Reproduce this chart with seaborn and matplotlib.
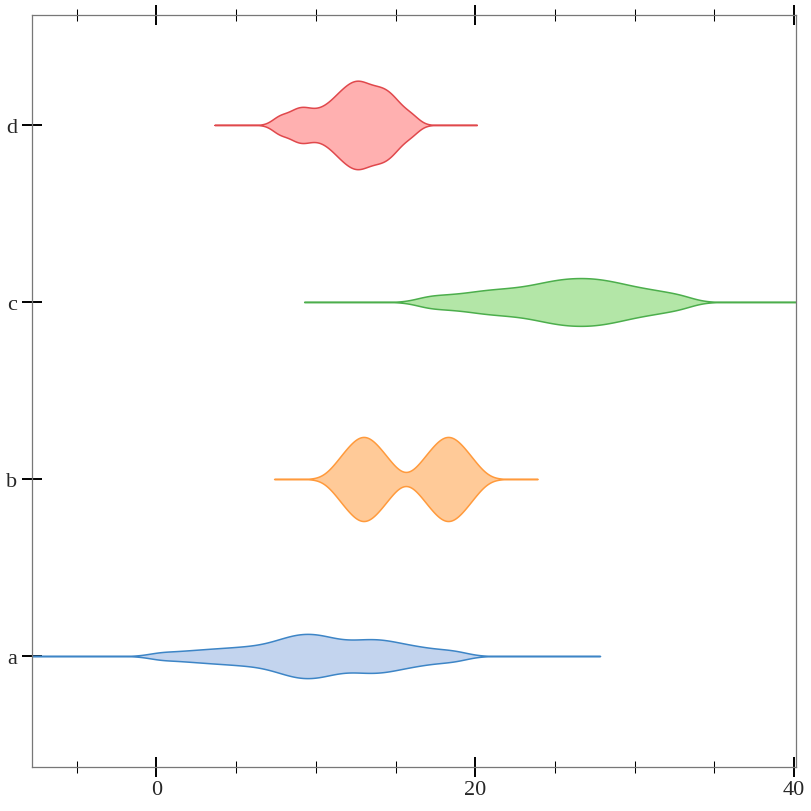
import matplotlib
matplotlib.use("Agg")
import matplotlib.pyplot as plt
from matplotlib.ticker import MultipleLocator
import pandas as pd
import seaborn as sns

# categories from top to bottom
categories = ['d', 'c', 'b', 'a']

a_values = [0.3, 1.7, 2.8, 3.7, 4.5, 5.25, 5.89, 6.54, 7.07, 7.52, 7.9, 8.27, 8.56,
            8.84, 9.12, 9.4, 9.68, 9.96, 10.24, 10.52, 10.85, 11.23, 11.61, 12.04, 12.48,
            12.87, 13.23, 13.6, 13.97, 14.35, 14.72, 15.19, 15.71, 16.29, 17.0, 17.9, 18.9]
b_values = [11.41, 12.08, 12.49, 12.84, 13.16, 13.51, 13.92, 14.59,
            16.71, 17.38, 17.79, 18.14, 18.46, 18.81, 19.22, 19.89]
c_values = [17.1, 18.5, 19.7, 20.6, 21.4, 22.15, 22.86, 23.51, 24.09, 24.58, 25.07, 25.5,
            25.92, 26.35, 26.76, 27.19, 27.6, 28.03, 28.51, 29.0, 29.55, 30.2, 30.94, 31.78,
            32.9]
d_values = [7.75, 8.6, 9.1, 9.62, 10.27, 10.8, 11.2, 11.5, 11.78, 12.02, 12.25, 12.46,
            12.67, 12.88, 13.1, 13.34, 13.6, 13.86, 14.1, 14.36, 14.62, 14.92, 15.33, 16.0]

line_colors = {'a': '#3d85c6', 'b': '#ff9a3c', 'c': '#4cae4c', 'd': '#e0484c'}
fill_colors = {'a': '#c3d4ee', 'b': '#ffca98', 'c': '#b3e6a7', 'd': '#ffb0b0'}

# kernel bandwidth (in x units), cut (in bandwidths) and violin width per group
kde_style = {
    'a': dict(bw=0.85, cut=10.5, width=0.25),
    'b': dict(bw=0.70, cut=5.75, width=0.475),
    'c': dict(bw=0.90, cut=8.7, width=0.27),
    'd': dict(bw=0.50, cut=8.2, width=0.5),
}

values = {'a': a_values, 'b': b_values, 'c': c_values, 'd': d_values}
df = pd.DataFrame([(k, v) for k in categories for v in values[k]],
                  columns=['group', 'value'])

sns.set_style("ticks")
plt.rcParams['font.family'] = ['Liberation Serif', 'DejaVu Serif']

fig, ax = plt.subplots(figsize=(8.12, 8.12), dpi=100)
fig.subplots_adjust(left=32 / 812, right=796 / 812, top=1 - 16 / 812, bottom=1 - 768 / 812)

for name in categories:
    sub = df[df['group'] == name]
    st = kde_style[name]
    sns.violinplot(data=sub, x='value', y='group', order=categories, orient='h',
                   inner=None, density_norm='width', width=st['width'],
                   bw_method=st['bw'] / sub['value'].std(), cut=st['cut'], gridsize=600,
                   color=fill_colors[name], linecolor=line_colors[name], linewidth=1.1,
                   saturation=1, ax=ax)

ax.set_xlim(-7.8, 40.12)
ax.set_ylim(3.627, -0.621)
ax.set_xlabel('')
ax.set_ylabel('')

ax.xaxis.set_major_locator(MultipleLocator(20))
ax.xaxis.set_minor_locator(MultipleLocator(5))

ax.tick_params(axis='x', which='major', direction='inout', length=15, width=1.4,
               color='black', top=True, bottom=True, labeltop=False, pad=2, labelsize=16)
ax.tick_params(axis='x', which='minor', direction='inout', length=8, width=0.75,
               color='black', top=True, bottom=True)
ax.tick_params(axis='y', which='major', direction='inout', length=15, width=1.4,
               color='black', left=True, right=False, pad=3, labelsize=16)

for side in ['left', 'right', 'top', 'bottom']:
    ax.spines[side].set_visible(True)
    ax.spines[side].set_color('#777777')
    ax.spines[side].set_linewidth(0.9)

plt.savefig('out.png', dpi=100)
